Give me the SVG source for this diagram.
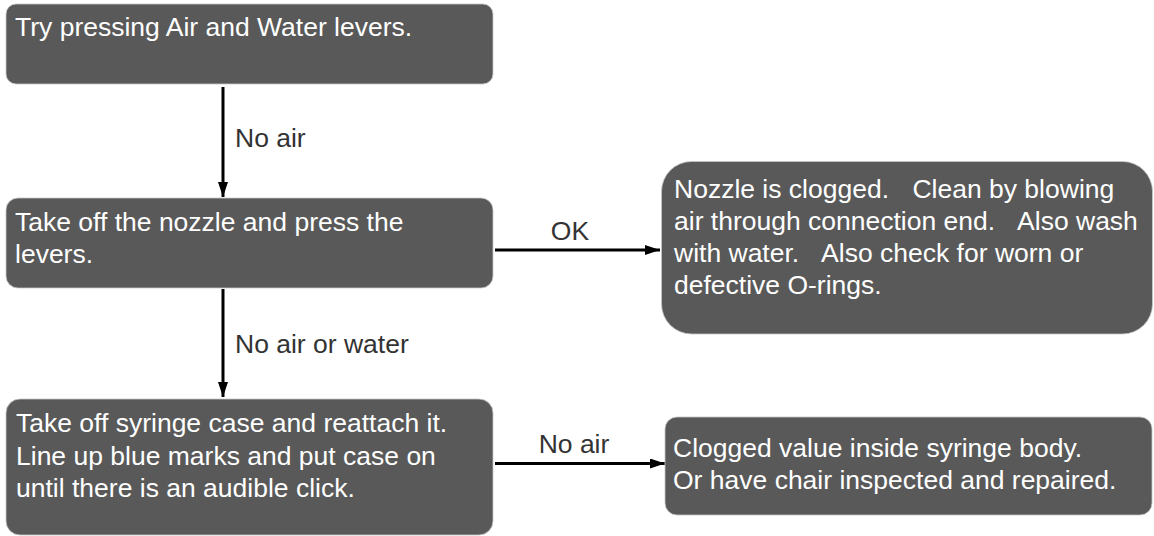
<svg xmlns="http://www.w3.org/2000/svg" width="1154" height="536" viewBox="0 0 1154 536">
<style>
.box{fill:#595959;stroke:#c8c8c8;stroke-width:0.8}
.bt{font-family:"Liberation Sans",Arial,sans-serif;font-size:26.5px;fill:#ffffff}
.lbl{font-family:"Liberation Sans",Arial,sans-serif;font-size:26.5px;fill:#333333}
.edge{stroke:#000;stroke-width:3;fill:none;marker-end:url(#ah)}
</style>
<defs>
<marker id="ah" markerWidth="15" markerHeight="10" refX="15" refY="5" orient="auto" markerUnits="userSpaceOnUse">
<path d="M0,0 L15,5 L0,10 Z" fill="#000"/>
</marker>
</defs>
<rect width="1154" height="536" fill="#ffffff"/>
<g id="connectors">
<line class="edge" x1="223" y1="87" x2="223" y2="197"/>
<text class="lbl" x="235" y="147">No air</text>
<line class="edge" x1="223" y1="289" x2="223" y2="397"/>
<text class="lbl" x="235" y="353">No air or water</text>
<line class="edge" x1="495" y1="250" x2="660" y2="250"/>
<text class="lbl" x="570" y="240" text-anchor="middle">OK</text>
<line class="edge" x1="495" y1="463.5" x2="665" y2="463.5"/>
<text class="lbl" x="574" y="453" text-anchor="middle">No air</text>
</g>
<g id="n1">
<rect class="box" x="6" y="4" width="487" height="80" rx="10"/>
<text class="bt" x="15" y="36">Try pressing Air and Water levers.</text>
</g>
<g id="n2">
<rect class="box" x="6" y="198" width="487" height="90" rx="12"/>
<text class="bt" x="15" y="230.5">Take off the nozzle and press the</text>
<text class="bt" x="15" y="263">levers.</text>
</g>
<g id="n3">
<rect class="box" x="661.5" y="161.5" width="491" height="172.5" rx="30"/>
<text class="bt" x="674" y="197.5">Nozzle is clogged. <tspan dx="16">Clean by blowing</tspan></text>
<text class="bt" x="674" y="229.5">air through connection end. <tspan dx="16">Also wash</tspan></text>
<text class="bt" x="674" y="261.5">with water. <tspan dx="16">Also check for worn or</tspan></text>
<text class="bt" x="674" y="293.5">defective O-rings.</text>
</g>
<g id="n4">
<rect class="box" x="6" y="399" width="487" height="136" rx="14"/>
<text class="bt" x="16" y="432">Take off syringe case and reattach it.</text>
<text class="bt" x="16" y="464.5">Line up blue marks and put case on</text>
<text class="bt" x="16" y="497">until there is an audible click.</text>
</g>
<g id="n5">
<rect class="box" x="665" y="417" width="487" height="98" rx="12"/>
<text class="bt" x="673" y="456.5">Clogged value inside syringe body.</text>
<text class="bt" x="673" y="488.5">Or have chair inspected and repaired.</text>
</g>
</svg>
